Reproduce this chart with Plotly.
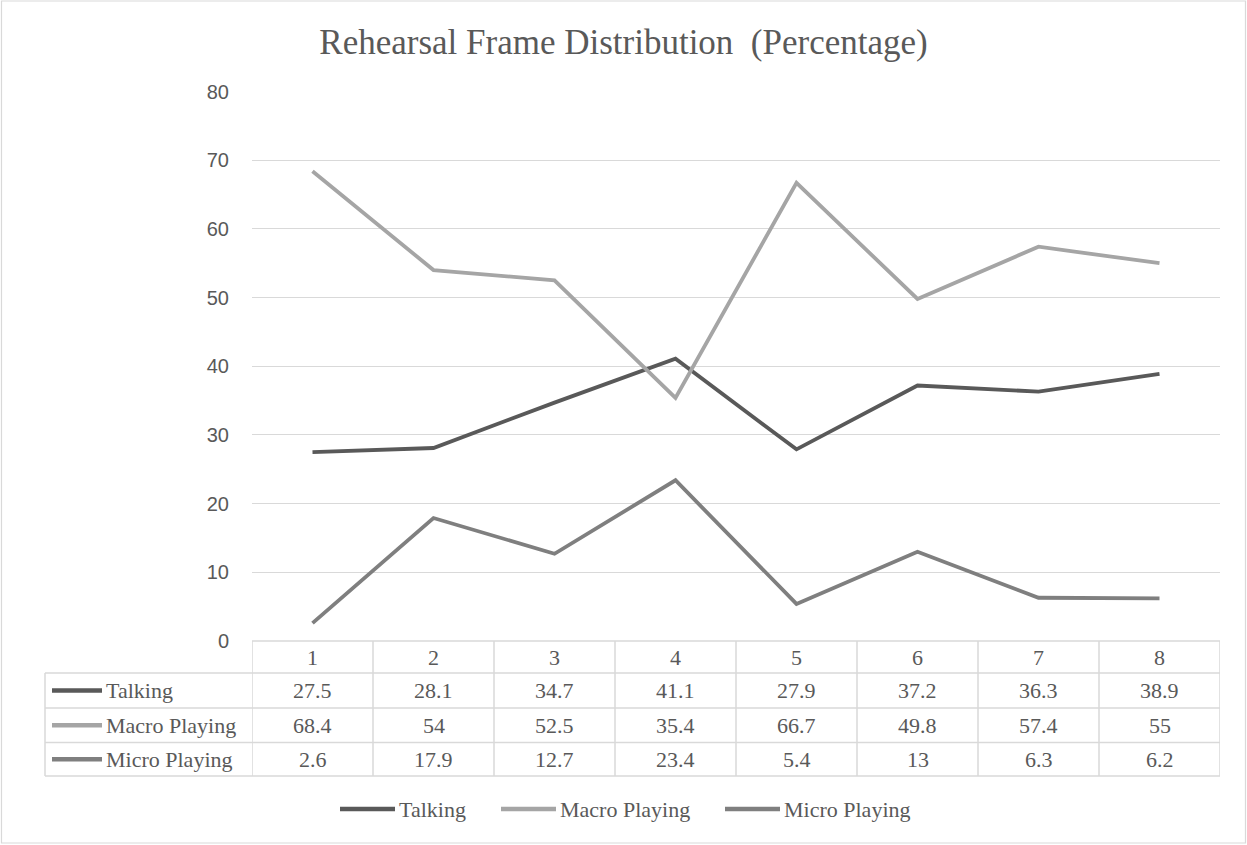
import plotly.graph_objects as go

W, H = 1247, 845

sessions = [1, 2, 3, 4, 5, 6, 7, 8]
series_names = ["Talking", "Macro Playing", "Micro Playing"]
talking = [27.5, 28.1, 34.7, 41.1, 27.9, 37.2, 36.3, 38.9]
macro_playing = [68.4, 54, 52.5, 35.4, 66.7, 49.8, 57.4, 55]
micro_playing = [2.6, 17.9, 12.7, 23.4, 5.4, 13, 6.3, 6.2]
y_ticks = [0, 10, 20, 30, 40, 50, 60, 70, 80]
title_text = "Rehearsal Frame Distribution\u00a0\u00a0(Percentage)"

colors = ["#595959", "#A5A5A5", "#7F7F7F"]
series_values = [talking, macro_playing, micro_playing]

TEXT = "#595959"
GRID = "#D9D9D9"
SERIF = "Liberation Serif, Times New Roman, serif"
SANS = "Liberation Sans, Arial, sans-serif"


def px(x):
    return x / W


def py(y):
    return 1 - y / H


fig = go.Figure()
for name, vals, col in zip(series_names, series_values, colors):
    fig.add_trace(go.Scatter(
        x=sessions, y=vals, mode="lines", name=name,
        line=dict(color=col, width=3.8), showlegend=False,
    ))

shapes = []
annotations = []

# outer chart border
shapes.append(dict(type="rect", xref="paper", yref="paper",
                   x0=px(1.5), x1=px(1245.5), y0=py(843), y1=py(1),
                   line=dict(color=GRID, width=1.2)))

# data table geometry
x_left = 45
x_plot0, x_plot1 = 252, 1220
row_edges = [641, 673, 708, 742.5, 776]

# horizontal lines
shapes.append(dict(type="line", xref="paper", yref="paper",
                   x0=px(x_plot0), x1=px(x_plot1), y0=py(row_edges[0]), y1=py(row_edges[0]),
                   line=dict(color=GRID, width=1.5)))
for ye in row_edges[1:]:
    shapes.append(dict(type="line", xref="paper", yref="paper",
                       x0=px(x_left), x1=px(x_plot1), y0=py(ye), y1=py(ye),
                       line=dict(color=GRID, width=1.5)))
# vertical lines
shapes.append(dict(type="line", xref="paper", yref="paper",
                   x0=px(x_left), x1=px(x_left), y0=py(row_edges[1]), y1=py(row_edges[-1]),
                   line=dict(color=GRID, width=1.5)))
for s in range(len(sessions) + 1):
    xv = sessions[0] - 0.5 + s
    shapes.append(dict(type="line", xref="x", yref="paper",
                       x0=xv, x1=xv, y0=py(row_edges[0]), y1=py(row_edges[-1]),
                       line=dict(color=GRID, width=1.5)))

cell_font = dict(family=SERIF, size=22, color=TEXT)

# header numbers
hdr_c = (row_edges[0] + row_edges[1]) / 2
for s in sessions:
    annotations.append(dict(x=s, y=py(hdr_c), xref="x", yref="paper", text=str(s),
                            xanchor="center", yanchor="middle",
                            showarrow=False, font=cell_font))

# rows
for r, (name, vals, col) in enumerate(zip(series_names, series_values, colors)):
    yc = (row_edges[r + 1] + row_edges[r + 2]) / 2
    shapes.append(dict(type="line", xref="paper", yref="paper",
                       x0=px(52), x1=px(102), y0=py(yc), y1=py(yc),
                       line=dict(color=col, width=4.5)))
    annotations.append(dict(x=px(104), y=py(yc), xref="paper", yref="paper", text=name,
                            xanchor="left", yanchor="middle", showarrow=False,
                            font=cell_font))
    for s, v in zip(sessions, vals):
        annotations.append(dict(x=s, y=py(yc), xref="x", yref="paper", text=f"{v:g}",
                                xanchor="center", yanchor="middle",
                                showarrow=False, font=cell_font))

# bottom legend
leg_y = 809
leg_keys = [340, 501, 725]
for name, col, kx in zip(series_names, colors, leg_keys):
    shapes.append(dict(type="line", xref="paper", yref="paper",
                       x0=px(kx), x1=px(kx + 55), y0=py(leg_y), y1=py(leg_y),
                       line=dict(color=col, width=4.5)))
    annotations.append(dict(x=px(kx + 57), y=py(leg_y), xref="paper", yref="paper", text=name,
                            xanchor="left", yanchor="middle", showarrow=False,
                            font=cell_font))

fig.update_layout(
    width=W, height=H,
    margin=dict(l=0, r=0, t=0, b=0, pad=0, autoexpand=False),
    paper_bgcolor="white", plot_bgcolor="white",
    title=dict(text=title_text, x=0.5, xanchor="center", xref="paper",
               y=py(42), yanchor="middle", yref="paper", automargin=False,
               font=dict(family=SERIF, size=35, color=TEXT)),
    xaxis=dict(domain=[px(x_plot0), px(x_plot1)], range=[0.5, 8.5],
               showgrid=False, zeroline=False, showline=False, automargin=False,
               showticklabels=False, ticks=""),
    yaxis=dict(domain=[py(641), py(91.5)], range=[0, 80], automargin=False,
               tickvals=y_ticks, showgrid=True, gridcolor=GRID, gridwidth=1.2,
               zeroline=False, showline=False, ticks="",
               ticklabelstandoff=22,
               tickfont=dict(family=SANS, size=20, color=TEXT)),
    shapes=shapes,
    annotations=annotations,
    showlegend=False,
)

fig.write_html("out.html", config={"displayModeBar": False},
               post_script="document.body.style.margin='0';")
